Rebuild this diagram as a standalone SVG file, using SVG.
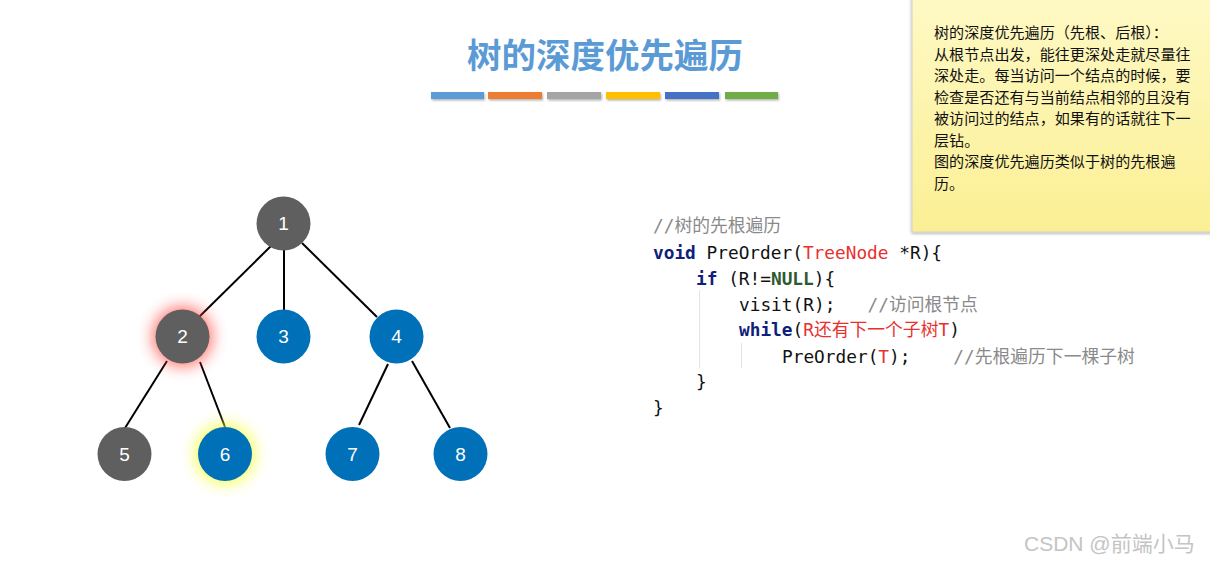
<svg xmlns="http://www.w3.org/2000/svg" width="1210" height="562" viewBox="0 0 1210 562">
<style>
.title{font-family:"Liberation Sans","Noto Sans CJK SC",sans-serif;font-size:34.5px;font-weight:bold;fill:#5b9bd5}
.node circle.gray{fill:#5f5f5f}
.node circle.blue{fill:#0070b8}
.node text{font-family:"Liberation Sans",Arial,sans-serif;font-size:19px;fill:#fff;text-anchor:middle}
.edge{stroke:#000;stroke-width:2;fill:none}
.note{font-family:"Noto Sans CJK SC",sans-serif;font-size:15.1px;fill:#111}
.code{font-family:"DejaVu Sans Mono","Noto Sans CJK SC",monospace;font-size:17.8px;fill:#111;white-space:pre}
.kw{fill:#0f1f7a;font-weight:bold}
.red{fill:#e8312f}
.cm{fill:#8a8a8a}
.nl{fill:#2f5a2f;font-weight:bold}
.guide{stroke:#e3e3e3;stroke-width:1}
.wm{font-family:"Liberation Sans","Noto Sans CJK SC",sans-serif;font-size:21px;fill:#c4c4c4}
</style>
<defs>
<filter id="glow" x="-1" y="-1" width="3" height="3"><feGaussianBlur stdDeviation="7.5"/></filter>
<filter id="sh" x="-0.2" y="-0.2" width="1.4" height="1.6"><feDropShadow dx="1" dy="1.5" stdDeviation="1" flood-color="#000" flood-opacity="0.3"/></filter>
<filter id="nsh" x="-0.1" y="-0.1" width="1.2" height="1.2"><feDropShadow dx="0" dy="1" stdDeviation="1.5" flood-color="#000" flood-opacity="0.35"/></filter>
<linearGradient id="noteg" x1="0" y1="0" x2="0" y2="1"><stop offset="0" stop-color="#fef9c4"/><stop offset="1" stop-color="#fbef94"/></linearGradient>
</defs>
<rect width="1210" height="562" fill="#fff"/>
<text class="title" x="605" y="68" text-anchor="middle">树的深度优先遍历</text>
<g id="bars" filter="url(#sh)">
<rect x="431" y="92" width="53" height="7" fill="#5b9bd5"/>
<rect x="488" y="92" width="54" height="7" fill="#ed7d31"/>
<rect x="547" y="92" width="54" height="7" fill="#a5a5a5"/>
<rect x="606" y="92" width="54" height="7" fill="#ffc000"/>
<rect x="665" y="92" width="54" height="7" fill="#4472c4"/>
<rect x="725" y="92" width="53" height="7" fill="#70ad47"/>
</g>
<g id="note">
<rect x="912" y="-2" width="302" height="234" fill="url(#noteg)" stroke="#cfcfcf" stroke-width="1" filter="url(#nsh)"/>
<text class="note" x="934" y="38">树的深度优先遍历（先根、后根）：</text>
<text class="note" x="934" y="59.5">从根节点出发，能往更深处走就尽量往</text>
<text class="note" x="934" y="81">深处走。每当访问一个结点的时候，要</text>
<text class="note" x="934" y="102.5">检查是否还有与当前结点相邻的且没有</text>
<text class="note" x="934" y="124">被访问过的结点，如果有的话就往下一</text>
<text class="note" x="934" y="145.5">层钻。</text>
<text class="note" x="934" y="167">图的深度优先遍历类似于树的先根遍</text>
<text class="note" x="934" y="188.5">历。</text>
</g>
<g id="connectors">
<line class="edge" x1="272" y1="245" x2="199" y2="317"/>
<line class="edge" x1="284" y1="250" x2="284" y2="310"/>
<line class="edge" x1="302" y1="243" x2="377" y2="317"/>
<line class="edge" x1="167" y1="361" x2="125" y2="428"/>
<line class="edge" x1="200" y1="362" x2="225" y2="427"/>
<line class="edge" x1="388" y1="364" x2="359" y2="425"/>
<line class="edge" x1="412" y1="361" x2="450" y2="428"/>
</g>
<g id="node1" class="node"><circle class="gray" cx="283.5" cy="223.5" r="27"/><text x="283.5" y="230">1</text></g>
<g id="node2" class="node"><circle cx="182.5" cy="336.5" r="30" fill="#ff3b30" opacity="0.7" filter="url(#glow)"/><circle class="gray" cx="182.5" cy="336.5" r="27"/><text x="182.5" y="343">2</text></g>
<g id="node3" class="node"><circle class="blue" cx="283.5" cy="336.5" r="27"/><text x="283.5" y="343">3</text></g>
<g id="node4" class="node"><circle class="blue" cx="396.5" cy="336.5" r="27"/><text x="396.5" y="343">4</text></g>
<g id="node5" class="node"><circle class="gray" cx="124.5" cy="454" r="27"/><text x="124.5" y="460.5">5</text></g>
<g id="node6" class="node"><circle cx="225" cy="454" r="30" fill="#f4ff3a" opacity="0.85" filter="url(#glow)"/><circle class="blue" cx="225" cy="454" r="27"/><text x="225" y="460.5">6</text></g>
<g id="node7" class="node"><circle class="blue" cx="352.5" cy="454" r="27"/><text x="352.5" y="460.5">7</text></g>
<g id="node8" class="node"><circle class="blue" cx="460.5" cy="454" r="27"/><text x="460.5" y="460.5">8</text></g>
<g id="code">
<line class="guide" x1="699.5" y1="290" x2="699.5" y2="368"/>
<line class="guide" x1="741.5" y1="343" x2="741.5" y2="368"/>
<text class="code" x="653" y="231.5"><tspan class="cm">//树的先根遍历</tspan></text>
<text class="code" x="653" y="258.5"><tspan class="kw">void</tspan> PreOrder(<tspan class="red">TreeNode</tspan> *R){</text>
<text class="code" x="696" y="284.5"><tspan class="kw">if</tspan> (R!=<tspan class="nl">NULL</tspan>){</text>
<text class="code" x="739" y="310.5">visit(R);   <tspan class="cm">//访问根节点</tspan></text>
<text class="code" x="739" y="336"><tspan class="kw">while</tspan>(<tspan class="red">R还有下一个子树T</tspan>)</text>
<text class="code" x="782" y="362.5">PreOrder(<tspan class="red">T</tspan>);    <tspan class="cm">//先根遍历下一棵子树</tspan></text>
<text class="code" x="696" y="387.5">}</text>
<text class="code" x="653" y="413.5">}</text>
</g>
<text class="wm" x="1024" y="551">CSDN @前端小马</text>
</svg>
